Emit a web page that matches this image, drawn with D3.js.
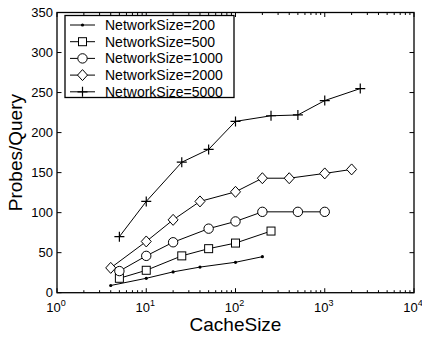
<!DOCTYPE html>
<html>
<head>
<meta charset="utf-8">
<script src="https://cdn.jsdelivr.net/npm/d3@7"></script>
<style>
  html, body { margin: 0; padding: 0; background: #fff; }
  svg { display: block; font-family: "Liberation Sans", Arial, sans-serif; }
</style>
</head>
<body>
<svg id="chart" width="422" height="339"></svg>
<script>
// Probes per query against cache size, one series per network size
const seriesNames = ["NetworkSize=200", "NetworkSize=500", "NetworkSize=1000", "NetworkSize=2000", "NetworkSize=5000"];
const seriesMarkers = ["dot", "square", "circle", "diamond", "plus"];

const cache200 = [4, 10, 20, 40, 100, 200];
const probes200 = [9, 18, 26, 32, 38, 45];

const cache500 = [5, 10, 25, 50, 100, 250];
const probes500 = [18, 28, 46, 55, 62, 77];

const cache1000 = [5, 10, 20, 50, 100, 200, 500, 1000];
const probes1000 = [27, 46, 63, 80, 89, 101, 101, 101];

const cache2000 = [4, 10, 20, 40, 100, 200, 400, 1000, 2000];
const probes2000 = [31, 64, 91, 114, 126, 143, 143, 149, 154];

const cache5000 = [5, 10, 25, 50, 100, 250, 500, 1000, 2500];
const probes5000 = [70, 114, 163, 179, 214, 221, 222, 240, 255];

const xDomain = [1, 10000];
const yDomain = [0, 350];
const xTickValues = [1, 10, 100, 1000, 10000];
const yTickValues = [0, 50, 100, 150, 200, 250, 300, 350];

const allX = [cache200, cache500, cache1000, cache2000, cache5000];
const allY = [probes200, probes500, probes1000, probes2000, probes5000];

const margin = { left: 57, right: 8, top: 12.5, bottom: 46.3 };
const W = 422, H = 339;
const svg = d3.select("#chart");

const x = d3.scaleLog().domain(xDomain).range([margin.left, W - margin.right]);
const y = d3.scaleLinear().domain(yDomain).range([H - margin.bottom, margin.top]);

const x0 = x.range()[0], x1 = x.range()[1];
const y0 = y.range()[0], y1 = y.range()[1];

// minor ticks on the log axis (2..9 in each decade)
const minorX = [];
for (let d = 1; d < 10000; d *= 10) for (let k = 2; k <= 9; k++) minorX.push(d * k);

const tickG = svg.append("g").attr("stroke", "#000").attr("stroke-width", 1);
// bottom & top ticks
minorX.forEach(v => {
  const px = x(v);
  tickG.append("line").attr("x1", px).attr("x2", px).attr("y1", y0).attr("y2", y0 - 2.5);
  tickG.append("line").attr("x1", px).attr("x2", px).attr("y1", y1).attr("y2", y1 + 2.5);
});
xTickValues.forEach(v => {
  const px = x(v);
  tickG.append("line").attr("x1", px).attr("x2", px).attr("y1", y0).attr("y2", y0 - 4.5);
  tickG.append("line").attr("x1", px).attr("x2", px).attr("y1", y1).attr("y2", y1 + 4.5);
});
// left & right ticks
yTickValues.forEach(v => {
  const py = y(v);
  tickG.append("line").attr("x1", x0).attr("x2", x0 + 4.5).attr("y1", py).attr("y2", py);
  tickG.append("line").attr("x1", x1).attr("x2", x1 - 4.5).attr("y1", py).attr("y2", py);
});

// frame
svg.append("rect")
  .attr("x", x0).attr("y", y1).attr("width", x1 - x0).attr("height", y0 - y1)
  .attr("fill", "none").attr("stroke", "#000").attr("stroke-width", 1.3);

// y tick labels
svg.append("g").selectAll("text").data(yTickValues).join("text")
  .attr("x", x0 - 4).attr("y", d => y(d) + 4.6)
  .attr("text-anchor", "end").attr("font-size", 13).attr("fill", "#000")
  .text(d => d);

// x tick labels as 10 with superscript exponent
const xl = svg.append("g");
xTickValues.forEach(v => {
  const t = xl.append("text")
    .attr("x", x(v) - 1).attr("y", y0 + 19)
    .attr("text-anchor", "middle").attr("font-size", 13).attr("fill", "#000");
  t.append("tspan").text("10");
  t.append("tspan").attr("dy", -6).attr("font-size", 9).text(Math.round(Math.log10(v)));
});

// axis titles
svg.append("text").attr("x", (x0 + x1) / 2).attr("y", 331)
  .attr("text-anchor", "middle").attr("font-size", 19).attr("fill", "#000").text("CacheSize");
svg.append("text")
  .attr("transform", `translate(22,${(y0 + y1) / 2}) rotate(-90)`)
  .attr("text-anchor", "middle").attr("font-size", 19).attr("fill", "#000").text("Probes/Query");

// marker drawing
function drawMarker(g, kind, cx, cy) {
  const s = g.append("g").attr("fill", "none").attr("stroke", "#000").attr("stroke-width", 1);
  if (kind === "dot") {
    s.append("circle").attr("cx", cx).attr("cy", cy).attr("r", 1.6).attr("fill", "#000").attr("stroke", "none");
  } else if (kind === "square") {
    s.append("rect").attr("x", cx - 4).attr("y", cy - 4).attr("width", 8).attr("height", 8).attr("fill", "#fff");
  } else if (kind === "circle") {
    s.append("circle").attr("cx", cx).attr("cy", cy).attr("r", 4.7).attr("fill", "#fff");
  } else if (kind === "diamond") {
    s.append("path").attr("d", `M${cx},${cy - 5.5}L${cx + 5},${cy}L${cx},${cy + 5.5}L${cx - 5},${cy}Z`).attr("fill", "#fff");
  } else if (kind === "plus") {
    s.append("path").attr("d", `M${cx - 5},${cy}H${cx + 5}M${cx},${cy - 5}V${cy + 5}`).attr("stroke-width", 1.2);
  }
}

const line = d3.line().x(d => x(d[0])).y(d => y(d[1]));
const plotG = svg.append("g");
allX.forEach((xs, i) => {
  const pts = xs.map((c, j) => [c, allY[i][j]]);
  plotG.append("path").attr("d", line(pts)).attr("fill", "none").attr("stroke", "#000").attr("stroke-width", 1);
});
allX.forEach((xs, i) => {
  xs.forEach((c, j) => drawMarker(plotG, seriesMarkers[i], x(c), y(allY[i][j])));
});

// legend
const lg = svg.append("g");
lg.append("rect").attr("x", 65).attr("y", 15.5).attr("width", 169).attr("height", 82)
  .attr("fill", "#fff").attr("stroke", "#000").attr("stroke-width", 1.3);
seriesNames.forEach((name, i) => {
  const cy = 25 + i * 16.7;
  lg.append("line").attr("x1", 70).attr("x2", 95).attr("y1", cy).attr("y2", cy)
    .attr("stroke", "#000").attr("stroke-width", 1);
  drawMarker(lg, seriesMarkers[i], 82.5, cy);
  lg.append("text").attr("x", 105).attr("y", cy + 5)
    .attr("font-size", 14).attr("fill", "#000").text(name);
});
</script>
</body>
</html>
